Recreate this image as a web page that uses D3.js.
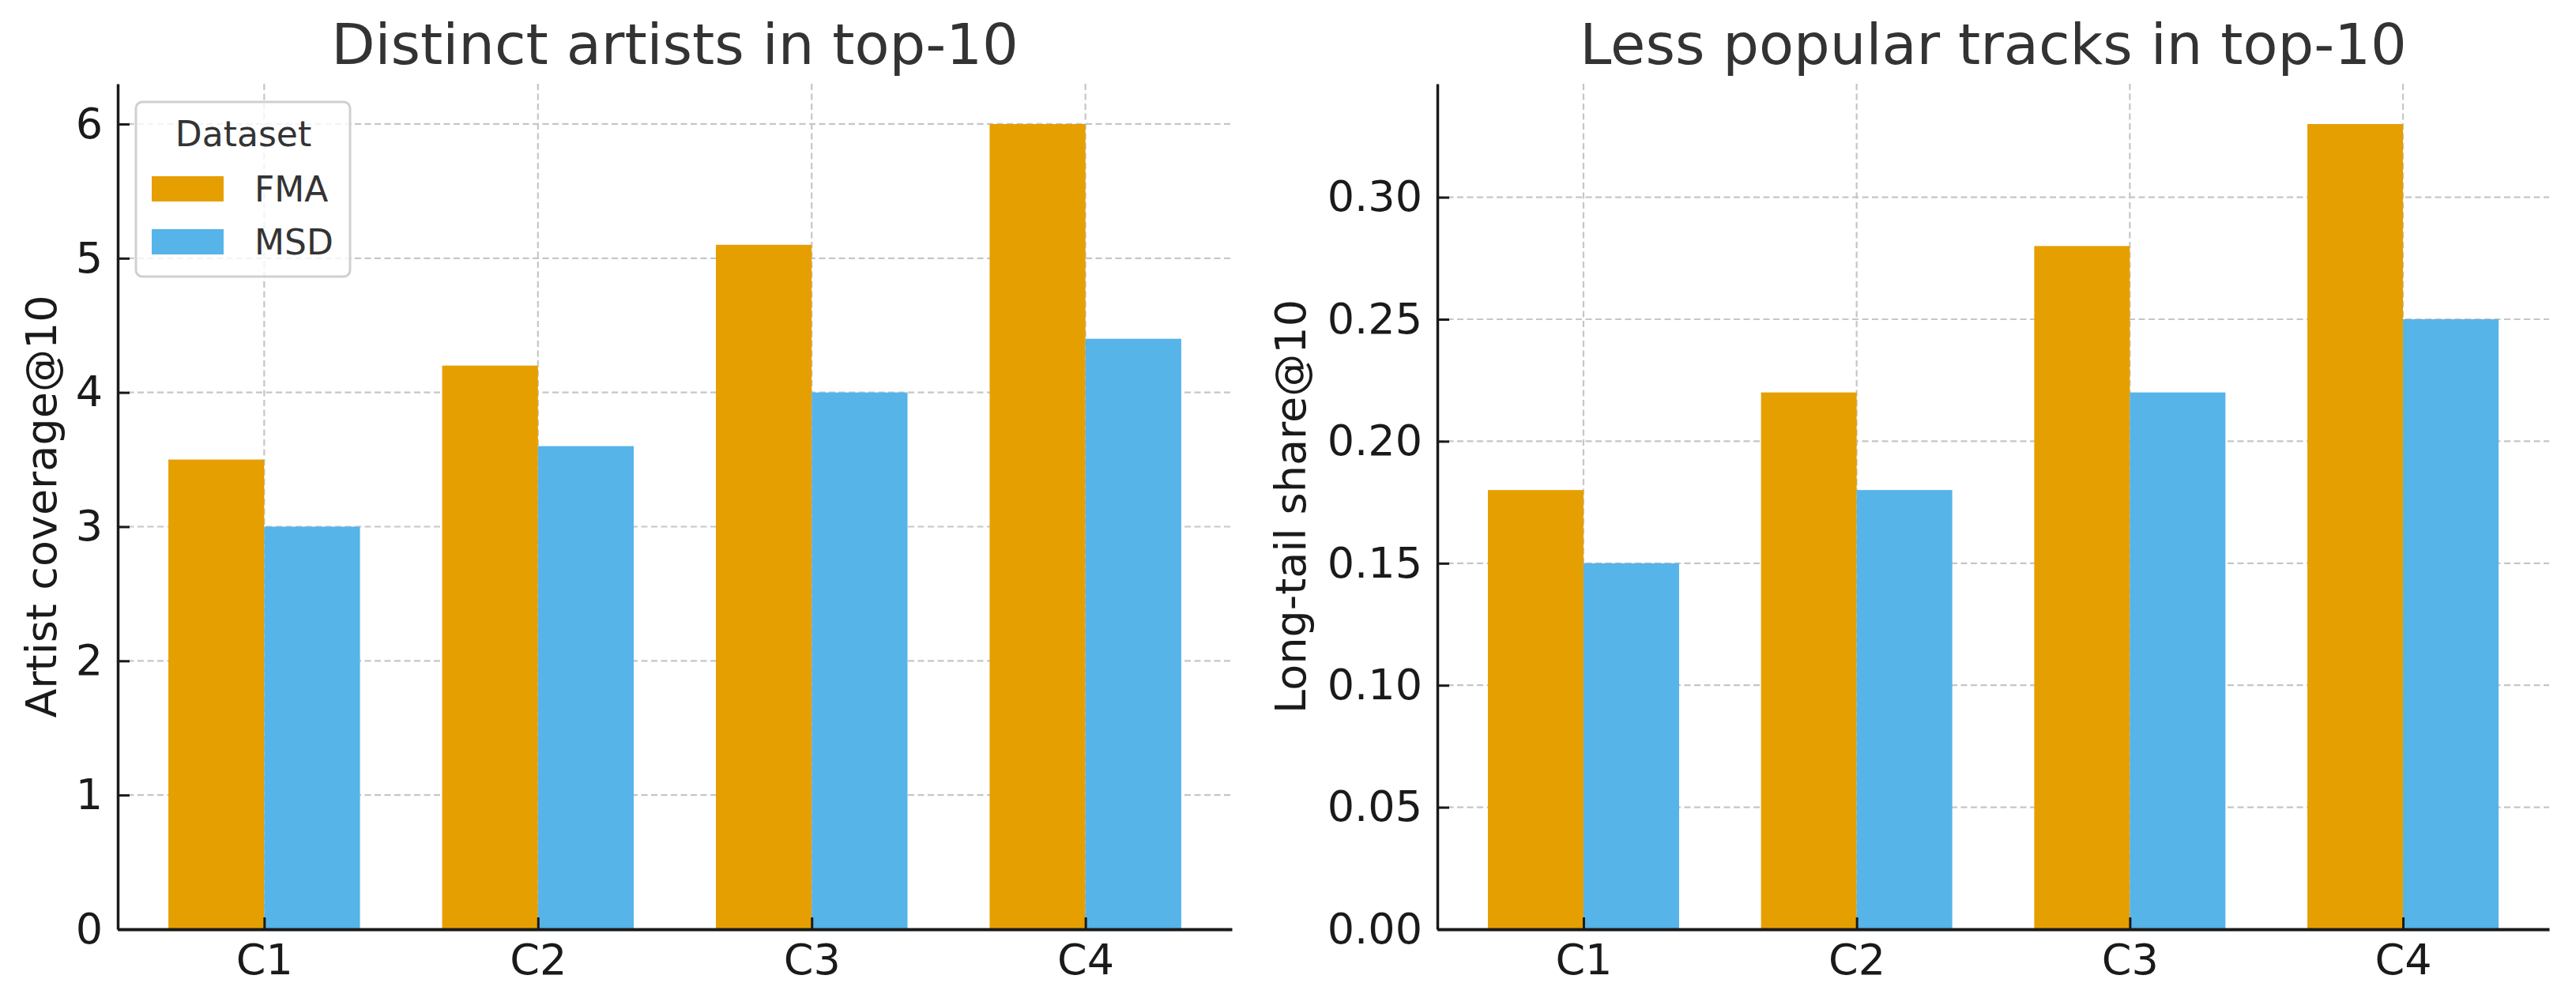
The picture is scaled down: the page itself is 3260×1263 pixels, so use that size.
<!DOCTYPE html>
<html>
<head>
<meta charset="utf-8">
<script src="https://cdn.jsdelivr.net/npm/d3@7"></script>
<style>
  body { margin: 0; background: #ffffff; }
  text { font-family: "DejaVu Sans", sans-serif; }
</style>
</head>
<body>
<div id="chart"></div>
<script>
"use strict";

// categories and series
var categories = ["C1", "C2", "C3", "C4"];
var datasets = ["FMA", "MSD"];
var artistFMA = [3.5, 4.2, 5.1, 6.0];
var artistMSD = [3.0, 3.6, 4.0, 4.4];
var tailFMA = [0.18, 0.22, 0.28, 0.33];
var tailMSD = [0.15, 0.18, 0.22, 0.25];

// tick labels
var artistTicks = [0, 1, 2, 3, 4, 5, 6];
var tailTicks = [0, 0.05, 0.10, 0.15, 0.20, 0.25, 0.30];

var colors = {FMA: "#E69F00", MSD: "#56B4E9"};
var barWidth = 0.35;
var gridColor = "#c6c6c6";

var svg = d3.select("#chart").append("svg")
    .attr("width", 3260)
    .attr("height", 1263);

function panel(opts) {
    var left = opts.left, right = opts.right, top = 106, bottom = 1176;

    // x runs on category index, like matplotlib
    var x = d3.scaleLinear()
        .domain([-0.535, categories.length - 1 + 0.535])
        .range([left, right]);
    var maxV = d3.max(opts.fma.concat(opts.msd));
    var y = d3.scaleLinear()
        .domain([0, maxV * 1.05])
        .range([bottom, top]);

    var g = svg.append("g");

    // grid (behind bars)
    g.selectAll(".hgrid")
        .data(opts.ticks.filter(function(d) { return d > 0; }))
        .enter().append("line")
        .attr("x1", left).attr("x2", right)
        .attr("y1", function(d) { return y(d); })
        .attr("y2", function(d) { return y(d); })
        .style("stroke", gridColor)
        .style("stroke-width", 2.2)
        .style("stroke-dasharray", "8,4.5");

    g.selectAll(".vgrid")
        .data(categories)
        .enter().append("line")
        .attr("x1", function(d, i) { return x(i); })
        .attr("x2", function(d, i) { return x(i); })
        .attr("y1", top).attr("y2", bottom)
        .style("stroke", gridColor)
        .style("stroke-width", 2.2)
        .style("stroke-dasharray", "8,4.5");

    // bars
    var series = [
        {name: "FMA", values: opts.fma, offset: -barWidth},
        {name: "MSD", values: opts.msd, offset: 0}
    ];
    series.forEach(function(s) {
        g.selectAll(".bar-" + s.name)
            .data(s.values)
            .enter().append("rect")
            .attr("x", function(d, i) { return x(i + s.offset); })
            .attr("width", function(d, i) { return x(i + s.offset + barWidth) - x(i + s.offset); })
            .attr("y", function(d) { return y(d); })
            .attr("height", function(d) { return y(0) - y(d); })
            .style("fill", colors[s.name]);
    });

    // y axis, ticks pointing in
    var yAxis = g.append("g")
        .attr("transform", "translate(" + left + ",0)")
        .call(d3.axisLeft(y)
            .tickValues(opts.ticks)
            .tickFormat(opts.fmt)
            .tickSizeInner(-15)
            .tickSizeOuter(0)
            .tickPadding(19));
    yAxis.select(".domain").style("stroke", "#1a1a1a").style("stroke-width", 3.5);
    yAxis.selectAll(".tick line").style("stroke", "#1a1a1a").style("stroke-width", 3);
    yAxis.selectAll(".tick text")
        .style("font-size", "54px")
        .style("font-family", "DejaVu Sans")
        .style("fill", "#1a1a1a");

    // x axis
    var xAxis = g.append("g")
        .attr("transform", "translate(0," + bottom + ")")
        .call(d3.axisBottom(x)
            .tickValues(d3.range(categories.length))
            .tickFormat(function(i) { return categories[i]; })
            .tickSizeInner(-15)
            .tickSizeOuter(0)
            .tickPadding(19));
    xAxis.select(".domain").style("stroke", "#1a1a1a").style("stroke-width", 4);
    xAxis.selectAll(".tick line").style("stroke", "#1a1a1a").style("stroke-width", 3);
    xAxis.selectAll(".tick text")
        .style("font-size", "54px")
        .style("font-family", "DejaVu Sans")
        .style("fill", "#1a1a1a");

    // title
    svg.append("text")
        .attr("x", (left + right) / 2)
        .attr("y", 81)
        .style("text-anchor", "middle")
        .style("font-size", "72px")
        .style("fill", "#333333")
        .text(opts.title);

    // y label
    svg.append("text")
        .attr("transform", "translate(" + opts.labelX + "," + ((top + bottom) / 2) + ") rotate(-90)")
        .style("text-anchor", "middle")
        .style("font-size", "54px")
        .style("fill", "#1a1a1a")
        .text(opts.ylabel);

    return {x: x, y: y};
}

panel({
    left: 149, right: 1559,
    fma: artistFMA, msd: artistMSD,
    ticks: artistTicks, fmt: d3.format("d"),
    title: "Distinct artists in top-10",
    ylabel: "Artist coverage@10",
    labelX: 71
});

panel({
    left: 1819, right: 3226,
    fma: tailFMA, msd: tailMSD,
    ticks: tailTicks, fmt: d3.format(".2f"),
    title: "Less popular tracks in top-10",
    ylabel: "Long-tail share@10",
    labelX: 1652
});

// legend in the left panel
var legend = svg.append("g");
legend.append("rect")
    .attr("x", 172).attr("y", 129)
    .attr("width", 271).attr("height", 221)
    .attr("rx", 8)
    .style("fill", "#ffffff")
    .style("fill-opacity", 0.8)
    .style("stroke", "#d0d0d0")
    .style("stroke-width", 3);
legend.append("text")
    .attr("x", 308).attr("y", 185)
    .style("text-anchor", "middle")
    .style("font-size", "44px")
    .style("fill", "#333333")
    .text("Dataset");
datasets.forEach(function(name, i) {
    var top = 223 + i * 67;
    legend.append("rect")
        .attr("x", 192).attr("y", top)
        .attr("width", 91).attr("height", 32)
        .style("fill", colors[name]);
    legend.append("text")
        .attr("x", 322).attr("y", top + 32)
        .style("font-size", "44px")
        .style("fill", "#333333")
        .text(name);
});
</script>
</body>
</html>
